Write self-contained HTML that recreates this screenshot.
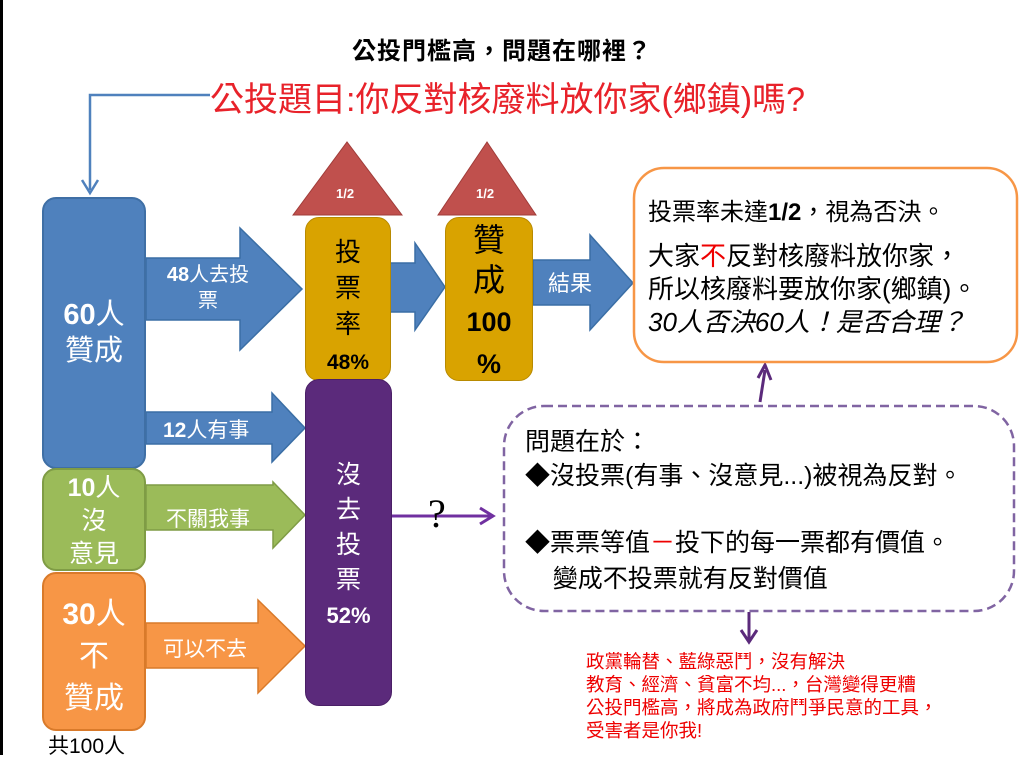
<!DOCTYPE html>
<html><head><meta charset="utf-8"><style>
body{margin:0;width:1024px;height:755px;background:#fff;position:relative;overflow:hidden;font-family:"Liberation Sans","Noto Sans CJK TC",sans-serif}
.a{position:absolute}
.box{position:absolute;border-radius:14px;color:#fff;text-align:center;box-sizing:border-box}
.t{position:absolute;white-space:nowrap}
</style></head><body>
<div class="a" style="left:0;top:0;width:3px;height:755px;background:#000"></div>
<div class="t" style="left:352px;top:31px;font-size:24px;font-weight:bold;letter-spacing:1px">公投門檻高，問題在哪裡？</div>
<div class="t" style="left:210px;top:72px;font-size:34px;color:#e8222a">公投題目:你反對核廢料放你家(鄉鎮)嗎?</div>
<svg class="a" style="left:0;top:0" width="1024" height="755">
<polyline points="210,95 90,95 90,190" fill="none" stroke="#4f81bd" stroke-width="2.5"/>
<polyline points="82,180 90,193 98,180" fill="none" stroke="#4f81bd" stroke-width="2.5"/>
<g stroke="#3a6ea5" stroke-width="1.5">
<polygon fill="#4f81bd" points="146,258 240,258 240,228 302,289 240,350 240,320 146,320"/>
<polygon fill="#4f81bd" points="146,412 272,412 272,393 305,428 272,462 272,444 146,444"/>
<polygon fill="#4f81bd" points="390,263 415,263 415,243 445,287 415,330 415,312 390,312"/>
<polygon fill="#4f81bd" points="533,260 590,260 590,235 633,283 590,330 590,305 533,305"/>
</g>
<polygon fill="#9bbb59" stroke="#7f9c45" stroke-width="1.5" points="146,485 273,485 273,482 305,515 273,548 273,530 146,530"/>
<polygon fill="#f79646" stroke="#d97a2a" stroke-width="1.5" points="146,623 258,623 258,600 305,646 258,693 258,668 146,668"/>
<polygon fill="#c0504d" stroke="#a03c39" points="293,215 347,142 402,215"/>
<polygon fill="#c0504d" stroke="#a03c39" points="438,215 487,142 536,215"/>
<line x1="392" y1="516" x2="490" y2="516" stroke="#7030a0" stroke-width="3"/>
<polyline points="480,508 493,516 480,524" fill="none" stroke="#7030a0" stroke-width="3"/>
<line x1="760" y1="402" x2="765" y2="370" stroke="#5b2a7b" stroke-width="3"/>
<polyline points="758,378 765,365 771,380" fill="none" stroke="#5b2a7b" stroke-width="3"/>
<line x1="749" y1="612" x2="749" y2="640" stroke="#5b2a7b" stroke-width="3"/>
<polyline points="741,630 749,642 757,630" fill="none" stroke="#5b2a7b" stroke-width="3"/>
<rect x="504" y="406" width="510" height="205" rx="40" fill="none" stroke="#8064a2" stroke-width="2.5" stroke-dasharray="9,5"/>
<rect x="634" y="168" width="383" height="194" rx="30" fill="none" stroke="#f79646" stroke-width="2.5"/>
</svg>
<div class="t" style="left:336px;top:186px;font-size:13px;font-weight:bold;color:#fff">1/2</div>
<div class="t" style="left:476px;top:186px;font-size:13px;font-weight:bold;color:#fff">1/2</div>
<div class="box" style="left:42px;top:197px;width:104px;height:272px;background:#4f81bd;border:2px solid #3f6fa5;padding-top:98px;font-size:29px;line-height:36px"><b>60</b>人<br>贊成</div>
<div class="box" style="left:42px;top:468px;width:104px;height:103px;background:#9bbb59;border:2px solid #7f9c45;padding-top:2px;font-size:25px;line-height:33px"><b>10</b>人<br>沒<br>意見</div>
<div class="box" style="left:42px;top:572px;width:104px;height:159px;background:#f79646;border:2px solid #d97a2a;padding-top:20px;font-size:30px;line-height:42px"><b>30</b>人<br>不<br>贊成</div>
<div class="t" style="left:48px;top:730px;font-size:21px">共100人</div>
<div class="t" style="left:155px;top:262px;width:106px;text-align:center;color:#fff;font-size:20px;line-height:26px;white-space:normal"><b>48</b>人去投<br>票</div>
<div class="t" style="left:163px;top:414px;color:#fff;font-size:21px"><b>12</b>人有事</div>
<div class="t" style="left:166px;top:503px;color:#fff;font-size:21px">不關我事</div>
<div class="t" style="left:163px;top:633px;color:#fff;font-size:21px">可以不去</div>
<div class="t" style="left:548px;top:266px;color:#fff;font-size:22px">結果</div>
<div class="box" style="left:305px;top:217px;width:86px;height:164px;background:#d9a300;border:1.5px solid #b88a00;color:#000;padding-top:16px;font-size:26px;line-height:36px">投<br>票<br>率<br><b style="font-size:21px">48%</b></div>
<div class="box" style="left:445px;top:217px;width:88px;height:164px;background:#d9a300;border:1.5px solid #b88a00;color:#000;padding-top:2px;font-size:32px;line-height:40px">贊<br>成<br><b style="font-size:27px">100<br>%</b></div>
<div class="box" style="left:305px;top:379px;width:87px;height:327px;background:#5b2a7b;border:1.5px solid #4a1f66;padding-top:78px;font-size:25px;line-height:35px">沒<br>去<br>投<br>票<br><b style="font-size:22px">52%</b></div>
<div class="t" style="left:428px;top:490px;font-size:40px;font-family:'Liberation Serif',serif">?</div>
<div class="t" style="left:648px;top:192px;font-size:24px">投票率未達<b>1/2</b>，視為否決。</div>
<div class="t" style="left:648px;top:240px;font-size:26px;line-height:33px">大家<span style="color:#e00">不</span>反對核廢料放你家，<br>所以核廢料要放你家(鄉鎮)。<br><i>30人否決60人！是否合理？</i></div>
<div class="t" style="left:525px;top:425px;font-size:25px;line-height:34px">問題在於：<br>◆沒投票(有事、沒意見...)被視為反對。</div>
<div class="t" style="left:525px;top:525px;font-size:25px;line-height:36px">◆票票等值<span style="color:#e00">－</span>投下的每一票都有價值。<br>&nbsp;&nbsp;&nbsp;&nbsp;變成不投票就有反對價值</div>
<div class="t" style="left:586px;top:650px;font-size:18.5px;line-height:23px;color:#e00">政黨輪替、藍綠惡鬥，沒有解決<br>教育、經濟、貧富不均...，台灣變得更糟<br>公投門檻高，將成為政府鬥爭民意的工具，<br>受害者是你我!</div>
</body></html>
